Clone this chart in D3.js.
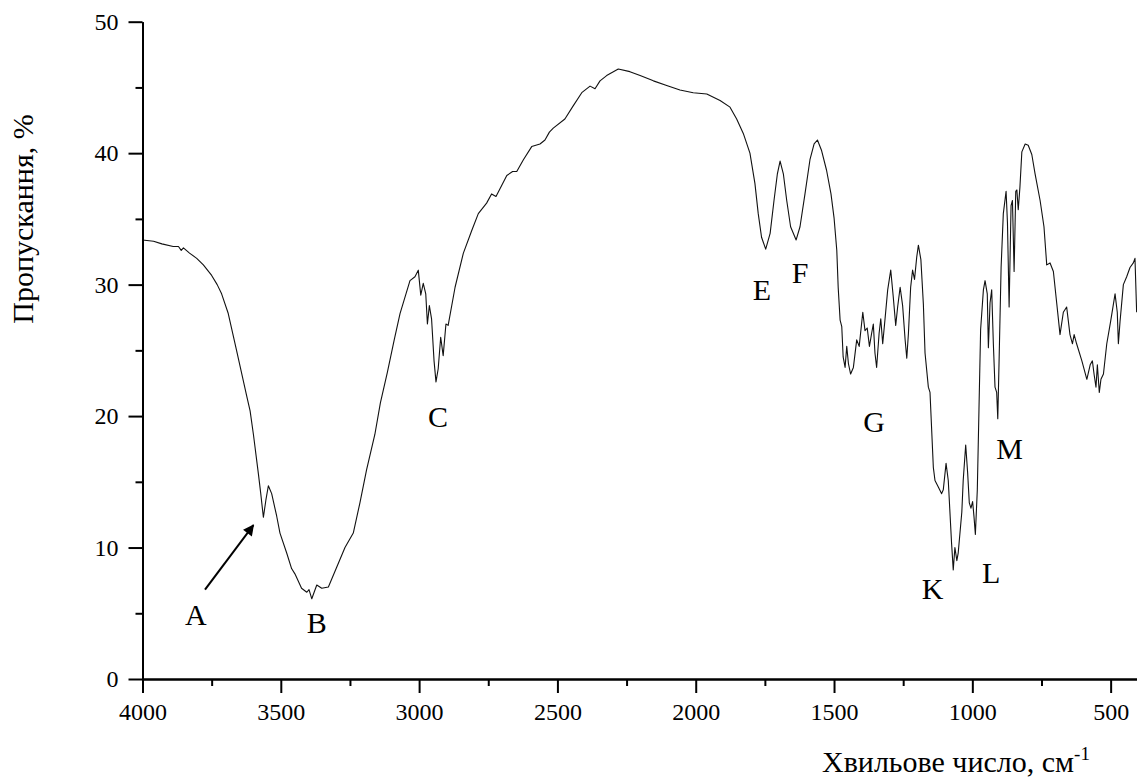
<!DOCTYPE html>
<html>
<head>
<meta charset="utf-8">
<script src="https://cdnjs.cloudflare.com/ajax/libs/d3/7.8.5/d3.min.js"></script>
<style>
  html, body { margin: 0; padding: 0; background: #fff; }
  svg { display: block; }
  text { font-family: "Liberation Serif", "DejaVu Serif", serif; fill: #000; }
</style>
</head>
<body>
<svg id="chart" width="1137" height="780"></svg>
<script>
// ---- data ----
const wavenumber = [
  4000, 3960, 3930, 3889, 3870, 3860, 3852, 3830, 3804, 3780, 3750, 3730, 3714, 3690, 3660,
  3623, 3611, 3599, 3581, 3573, 3563, 3554, 3545, 3533, 3515, 3503, 3479, 3461, 3449, 3425,
  3406, 3398, 3388, 3370, 3352, 3328, 3298, 3268, 3238, 3214, 3190, 3160, 3140, 3115, 3090,
  3069, 3033, 3015, 3003, 2994, 2985, 2976, 2970, 2963, 2955, 2946, 2939, 2931, 2922, 2913,
  2903, 2895, 2870, 2840, 2810, 2786, 2756, 2738, 2722, 2683, 2662, 2647, 2623, 2593, 2563,
  2545, 2529, 2515, 2473, 2443, 2412, 2382, 2364, 2346, 2322, 2280, 2238, 2201, 2153, 2105,
  2057, 2009, 1960, 1912, 1876, 1852, 1828, 1804, 1786, 1774, 1762, 1747, 1731, 1717, 1705,
  1695, 1683, 1671, 1657, 1637, 1623, 1605, 1587, 1572, 1560, 1545, 1527, 1511, 1500, 1490,
  1485, 1478, 1472, 1467, 1460, 1454, 1448, 1440, 1430, 1418, 1409, 1396, 1388, 1380, 1372,
  1364, 1358, 1352, 1346, 1337, 1331, 1324, 1316, 1306, 1295, 1286, 1277, 1270, 1261, 1252,
  1243, 1237, 1231, 1223, 1216, 1209, 1201, 1195, 1186, 1177, 1171, 1159, 1153, 1141, 1135,
  1123, 1111, 1105, 1095, 1087, 1075, 1069, 1063, 1056, 1051, 1038, 1033, 1024, 1017, 1011,
  1005, 999, 994, 989, 982, 976, 970, 960, 954, 946, 942, 936, 930, 924, 918,
  912, 908, 903, 896, 888, 878, 873, 867, 860, 855, 849, 843, 839, 834, 828,
  821, 809, 798, 785, 773, 755, 741, 731, 719, 707, 695, 683, 671, 659, 647,
  638, 632, 623, 604, 586, 574, 566, 560, 553, 548, 541, 535, 526, 514, 500,
  484, 476, 472, 466, 454, 442, 430, 418, 412, 406
];
const transmittance = [
  33.4, 33.3, 33.1, 32.9, 32.9, 32.6, 32.8, 32.4, 32.0, 31.5, 30.7, 30.0, 29.3, 27.8, 25.0,
  21.5, 20.4, 18.6, 15.6, 14.2, 12.3, 13.6, 14.7, 14.1, 12.4, 11.1, 9.6, 8.4, 8.0, 6.9,
  6.6, 6.8, 6.1, 7.15, 6.9, 7.0, 8.5, 10.0, 11.1, 13.4, 15.9, 18.6, 21.0, 23.3, 25.8,
  27.8, 30.3, 30.6, 31.1, 29.2, 30.1, 29.3, 27.0, 28.4, 27.4, 24.2, 22.6, 23.6, 26.0, 24.6,
  27.0, 26.9, 29.8, 32.4, 34.1, 35.4, 36.2, 36.9, 36.7, 38.3, 38.6, 38.6, 39.5, 40.5, 40.7,
  41.0, 41.6, 41.9, 42.6, 43.6, 44.6, 45.1, 44.9, 45.5, 45.9, 46.4, 46.2, 45.9, 45.5, 45.15,
  44.8, 44.6, 44.5, 44.0, 43.5, 42.6, 41.5, 40.0, 37.7, 35.4, 33.6, 32.7, 33.9, 36.4, 38.4,
  39.4, 38.4, 36.4, 34.4, 33.4, 34.4, 36.9, 39.5, 40.7, 41.0, 40.2, 38.7, 36.9, 35.1, 32.6,
  29.8, 27.3, 26.8, 24.5, 23.7, 25.3, 24.0, 23.2, 23.7, 25.8, 25.3, 27.9, 26.5, 26.7, 25.3,
  26.3, 27.0, 24.8, 23.7, 26.3, 27.4, 25.5, 27.3, 29.6, 31.1, 29.1, 26.9, 28.3, 29.8, 28.4,
  25.8, 24.4, 26.3, 29.8, 31.1, 30.4, 32.1, 33.0, 31.9, 28.5, 24.8, 22.2, 21.8, 16.1, 15.1,
  14.6, 14.1, 14.4, 16.4, 15.1, 10.3, 8.3, 10.0, 9.0, 9.6, 12.7, 15.1, 17.8, 15.7, 13.4,
  13.0, 13.5, 12.35, 11.0, 14.4, 20.5, 26.6, 29.6, 30.3, 29.3, 25.2, 28.6, 29.6, 25.5, 22.2,
  21.8, 19.8, 24.5, 31.3, 35.4, 37.1, 34.7, 28.3, 36.0, 36.4, 31.0, 37.1, 37.2, 35.7, 37.4,
  40.1, 40.7, 40.6, 39.9, 38.4, 36.4, 34.4, 31.5, 31.65, 31.0, 28.6, 26.2, 27.9, 28.3, 26.2,
  25.5, 26.2, 25.5, 24.2, 22.8, 23.9, 24.2, 23.2, 22.2, 23.9, 21.8, 22.8, 23.2, 25.5, 27.2,
  29.3, 27.9, 25.5, 27.2, 30.0, 30.6, 31.3, 31.65, 32.0, 27.9
];
const xMajorTicks = [4000, 3500, 3000, 2500, 2000, 1500, 1000, 500];
const xMinorTicks = [3750, 3250, 2750, 2250, 1750, 1250, 750];
const yMajorTicks = [0, 10, 20, 30, 40, 50];
const yMinorTicks = [5, 15, 25, 35, 45];
const peakLabels = ["A", "B", "C", "E", "F", "G", "K", "L", "M"];
const peakLabelWavenumber = [3807, 3370, 2932, 1761, 1623, 1355, 1144, 932, 865];
const peakLabelT = [4.1, 3.5, 19.2, 28.8, 30.1, 18.8, 6.1, 7.3, 16.7];
const arrowFrom = [3774, 6.8];
const arrowTo = [3599, 11.7];
const xTitle = "Хвильове число, см";
const xTitleSup = "-1";
const yTitle = "Пропускання, %";

// ---- drawing ----
const FONT = '"Liberation Serif", "DejaVu Serif", serif';
const svg = d3.select("#chart");
const x = d3.scaleLinear().domain([4000, 400]).range([142.5, 1138.3]);
const y = d3.scaleLinear().domain([0, 50]).range([679, 21.7]);

const defs = svg.append("defs");
defs.append("marker")
  .attr("id", "arrowhead")
  .attr("viewBox", "0 0 10 10")
  .attr("refX", 9).attr("refY", 5)
  .attr("markerUnits", "userSpaceOnUse")
  .attr("markerWidth", 15).attr("markerHeight", 11)
  .attr("orient", "auto")
  .append("path").attr("d", "M0,0 L10,5 L0,10 Z").attr("fill", "#000");

// spectrum
const pts = wavenumber.map((w, i) => [w, transmittance[i]]);
svg.append("path")
  .datum(pts)
  .attr("fill", "none")
  .attr("stroke", "#111")
  .attr("stroke-width", 1.1)
  .attr("stroke-linejoin", "round")
  .attr("d", d3.line().x(d => x(d[0])).y(d => y(d[1])));

// axes
function styleAxis(g) {
  g.attr("font-family", FONT).attr("font-size", 24);
  g.selectAll(".domain").attr("stroke", "#000").attr("stroke-width", 2);
  g.selectAll(".tick line").attr("stroke", "#000").attr("stroke-width", 2);
  g.selectAll(".tick text").attr("font-family", FONT).style("font-family", FONT)
    .style("font-size", "24px").attr("fill", "#000");
}

svg.append("g").attr("transform", `translate(0,${y(0)})`)
  .call(d3.axisBottom(x).tickValues(xMinorTicks).tickSize(7).tickSizeOuter(0).tickFormat(""))
  .call(styleAxis);
svg.append("g").attr("transform", `translate(0,${y(0)})`)
  .call(d3.axisBottom(x).tickValues(xMajorTicks).tickSize(14).tickSizeOuter(0).tickPadding(10).tickFormat(d3.format("d")))
  .call(styleAxis);

svg.append("g").attr("transform", `translate(${x(4000)},0)`)
  .call(d3.axisLeft(y).tickValues(yMinorTicks).tickSize(7).tickSizeOuter(0).tickFormat(""))
  .call(styleAxis);
svg.append("g").attr("transform", `translate(${x(4000)},0)`)
  .call(d3.axisLeft(y).tickValues(yMajorTicks).tickSize(14).tickSizeOuter(0).tickPadding(10).tickFormat(d3.format("d")))
  .call(styleAxis);

// axis titles
const xt = svg.append("text")
  .attr("x", 822).attr("y", 772)
  .style("font-size", "30px");
xt.append("tspan").text(xTitle);
xt.append("tspan").attr("dy", -12).style("font-size", "19px").text(xTitleSup);

svg.append("text")
  .attr("transform", "translate(33,219) rotate(-90)")
  .attr("text-anchor", "middle")
  .style("font-size", "30px")
  .text(yTitle);

// peak labels
svg.append("g").selectAll("text")
  .data(peakLabels)
  .join("text")
  .attr("x", (d, i) => x(peakLabelWavenumber[i]))
  .attr("y", (d, i) => y(peakLabelT[i]))
  .attr("text-anchor", "middle")
  .style("font-size", "30px")
  .text(d => d);

// arrow to A
svg.append("line")
  .attr("x1", x(arrowFrom[0])).attr("y1", y(arrowFrom[1]))
  .attr("x2", x(arrowTo[0])).attr("y2", y(arrowTo[1]))
  .attr("stroke", "#000").attr("stroke-width", 2)
  .attr("marker-end", "url(#arrowhead)");
</script>
</body>
</html>
